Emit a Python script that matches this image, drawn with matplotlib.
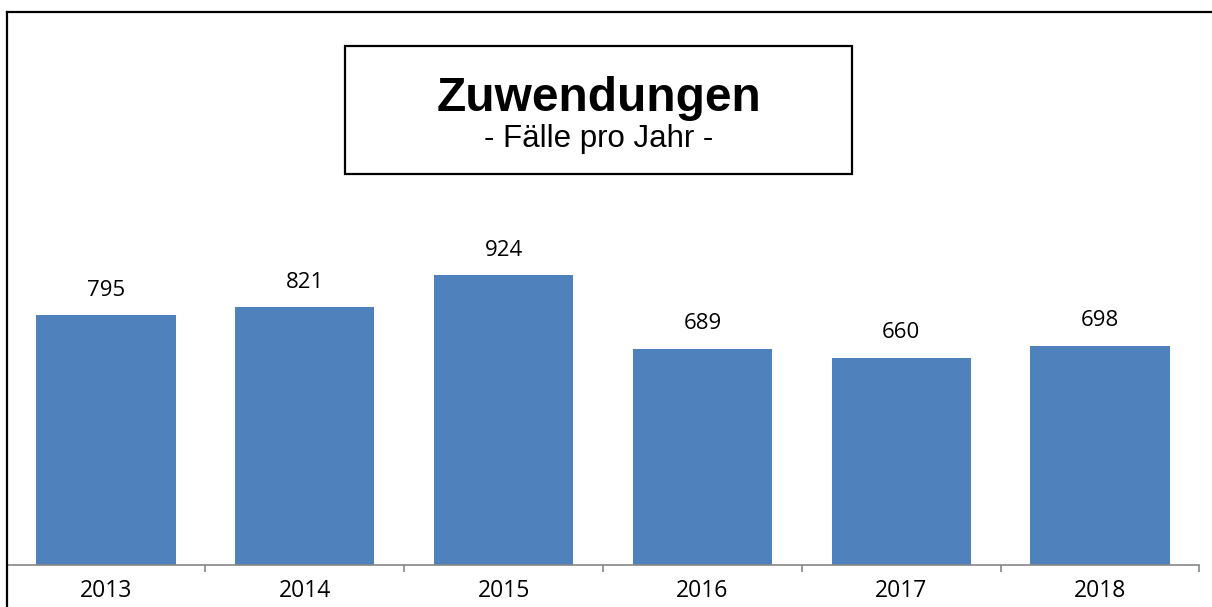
import matplotlib.pyplot as plt
from matplotlib.lines import Line2D
from matplotlib.patches import Rectangle

# data
years = ['2013', '2014', '2015', '2016', '2017', '2018']
cases = [795, 821, 924, 689, 660, 698]

W, H = 1212, 607
fig = plt.figure(figsize=(W / 100, H / 100), dpi=100)

# pixel helpers (origin top-left)
def fx(px):
    return px / W

def fy(py):
    return 1 - py / H

ax_left, ax_right, ax_base, ax_top = 6.6, 1199.4, 565, 12
ax = fig.add_axes([fx(ax_left), fy(ax_base), (ax_right - ax_left) / W, (ax_base - ax_top) / H])

px_per_unit = 290 / 924
ax.bar(range(len(years)), cases, width=0.7, color='#4F81BD', zorder=2)
ax.set_xlim(-0.5, len(years) - 0.5)
ax.set_ylim(0, (ax_base - ax_top) / px_per_unit)

for i, v in enumerate(cases):
    ax.text(i, v + 25 / px_per_unit, str(v), ha='center', va='center',
            fontsize=16, family='Open Sans', color='black')

for s in ['top', 'right', 'left']:
    ax.spines[s].set_visible(False)
ax.spines['bottom'].set_color('#868686')
ax.spines['bottom'].set_linewidth(1.2)
ax.set_yticks([])
ax.set_xticks(range(len(years)))
ax.set_xticklabels(years, fontsize=16.5, family='Open Sans')
ax.tick_params(axis='x', which='major', length=0, pad=10)
ax.set_xticks([i - 0.5 for i in range(len(years) + 1)], minor=True)
ax.tick_params(axis='x', which='minor', length=5, width=1.2, color='#868686', direction='out')

# title box
fig.add_artist(Rectangle((fx(345), fy(174)), (852 - 345) / W, (174 - 46) / H,
                         transform=fig.transFigure, fill=False, edgecolor='black', linewidth=1.6))
fig.text(fx(598.5), fy(111), 'Zuwendungen', ha='center', va='baseline',
         fontsize=34.5, fontweight='bold', family='Liberation Sans')
fig.text(fx(598.5), fy(147), '- Fälle pro Jahr -', ha='center', va='baseline',
         fontsize=22.5, family='Liberation Sans')

# outer frame (left and top edges)
fig.add_artist(Line2D([fx(7), fx(7)], [fy(12), 0], transform=fig.transFigure, color='black', linewidth=1.6))
fig.add_artist(Line2D([fx(7), 1], [fy(12), fy(12)], transform=fig.transFigure, color='black', linewidth=1.6))

fig.savefig('out.png', dpi=100)
